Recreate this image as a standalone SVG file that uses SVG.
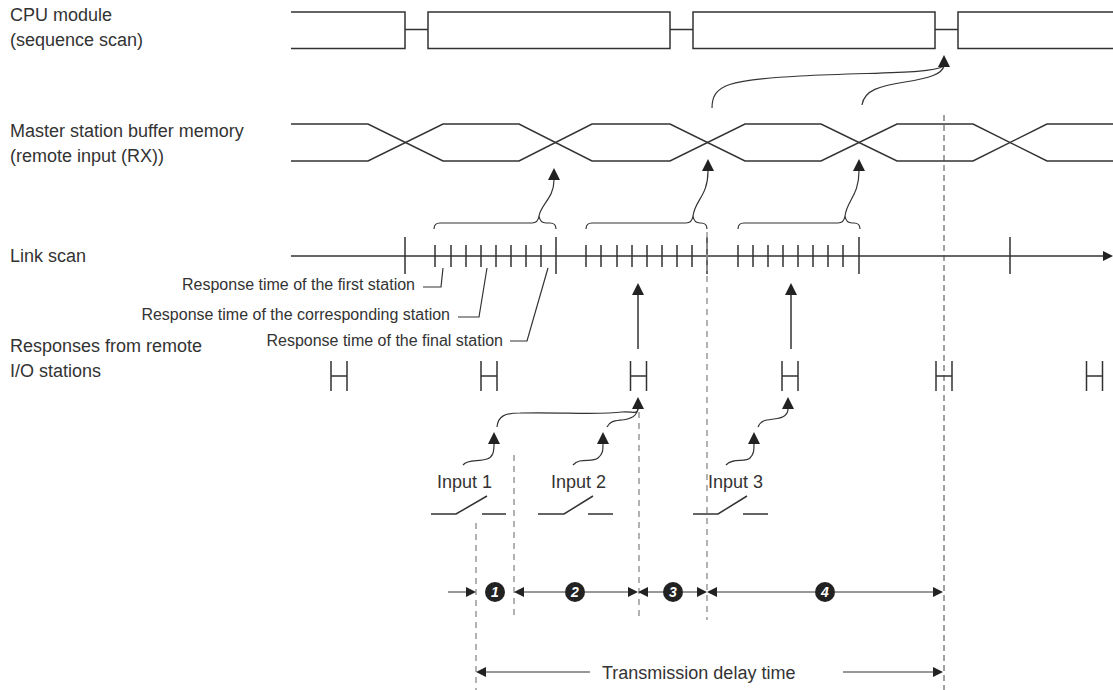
<svg xmlns="http://www.w3.org/2000/svg" xmlns:xlink="http://www.w3.org/1999/xlink" width="1113" height="690" viewBox="0 0 1113 690">
<style>
.ln{fill:none;stroke:#333;stroke-width:1.5}
.th{fill:none;stroke:#333;stroke-width:1.2}
.dg{fill:none;stroke:#999;stroke-width:1.5;stroke-dasharray:6 5}
.dk{fill:none;stroke:#444;stroke-width:1;stroke-dasharray:6 4}
.lbl{font-family:"Liberation Sans",Arial,sans-serif;font-size:18px;fill:#333}
.sm{font-family:"Liberation Sans",Arial,sans-serif;font-size:16px;fill:#333}
.num{font-family:"Liberation Sans",Arial,sans-serif;font-size:14px;font-weight:bold;font-style:italic;fill:#fff}
.ah{fill:#222}
</style>
<defs>
<path id="au" d="M0,0 L6,12 L-6,12 Z"/>
<path id="ar" d="M0,0 L-10,-5 L-10,5 Z"/>
<path id="al" d="M0,0 L10,-5 L10,5 Z"/>
<path id="H" d="M-8,361 V391 M8,361 V391 M-8,376 H8"/>
</defs>

<g id="labels">
<text class="lbl" x="10" y="21">CPU module</text>
<text class="lbl" x="10" y="46">(sequence scan)</text>
<text class="lbl" x="10" y="137">Master station buffer memory</text>
<text class="lbl" x="10" y="162">(remote input (RX))</text>
<text class="lbl" x="10" y="262">Link scan</text>
<text class="lbl" x="10" y="352">Responses from remote</text>
<text class="lbl" x="10" y="377">I/O stations</text>
</g>

<g id="cpu-scan">
<path class="ln" d="M291,12 H405 V48.5 H291 M405,29.5 H428 M670,29.5 H693 M935,29.5 H958 M1113,12 H958 V48.5 H1113"/>
<rect class="ln" x="428" y="12" width="242" height="36.5"/>
<rect class="ln" x="693" y="12" width="242" height="36.5"/>
</g>

<g id="buffer-memory">
<path class="ln" d="M291,124 L368,124 L443,161 L519,161 L592,124 L670,124 L745,161 L821,161 L897,124 L973,124 L1047,161 L1113,161"/>
<path class="ln" d="M291,161 L368,161 L443,124 L519,124 L592,161 L670,161 L745,124 L821,124 L897,161 L973,161 L1047,124 L1113,124"/>
</g>

<g id="link-scan">
<path class="ln" d="M291,256 H1104"/>
<use href="#ar" class="ah" x="1113" y="256"/>
<path class="ln" d="M405,237 V274 M556,237 V274 M707,237 V274 M859,237 V274 M1010,237 V274"/>
<path class="ln" d="M435,245 V267 M451,245 V267 M466,245 V267 M481,245 V267 M496,245 V267 M511,245 V267 M526,245 V267 M541,245 V267
M586,245 V267 M601,245 V267 M617,245 V267 M632,245 V267 M647,245 V267 M662,245 V267 M677,245 V267 M692,245 V267
M738,245 V267 M753,245 V267 M768,245 V267 M783,245 V267 M798,245 V267 M813,245 V267 M828,245 V267 M843,245 V267"/>
<path class="th" d="M434,229 Q434,223 440,223 H532 Q538,223 539,216 Q540,223 546,223 H550 Q556,223 556,229"/>
<path class="th" d="M586,229 Q586,223 592,223 H686 Q692,223 693,216 Q694,223 700,223 H701 Q707,223 707,229"/>
<path class="th" d="M738,229 Q738,223 744,223 H838 Q844,223 845,216 Q846,223 852,223 H854 Q860,223 860,229"/>
</g>

<g id="response-labels">
<text class="sm" x="415" y="290" text-anchor="end">Response time of the first station</text>
<text class="sm" x="450" y="320" text-anchor="end">Response time of the corresponding station</text>
<text class="sm" x="503" y="346" text-anchor="end">Response time of the final station</text>
<path class="th" d="M423,287 H441 L443,268 M458,317 H479 L487,268 M510,341 H527 L548,268"/>
</g>

<g id="responses">
<use href="#H" class="ln" x="339"/>
<use href="#H" class="ln" x="489"/>
<use href="#H" class="ln" x="638.5"/>
<use href="#H" class="ln" x="790"/>
<use href="#H" class="ln" x="944"/>
<use href="#H" class="ln" x="1094.5"/>
</g>

<g id="inputs">
<text class="lbl" x="437" y="488">Input 1</text>
<text class="lbl" x="551" y="488">Input 2</text>
<text class="lbl" x="708" y="488">Input 3</text>
<path class="ln" d="M431,514 H456 L487,496 M482,514 H506"/>
<path class="ln" d="M538,514 H564 L593,496 M588,514 H613"/>
<path class="ln" d="M693,514 H718 L747,496 M743,514 H768"/>
</g>

<g id="guides">
<path class="dk" d="M944,115 V690"/>
<path class="dg" d="M707,232 V620"/>
<path class="dg" d="M639,412 V620"/>
<path class="dg" d="M514,455 V620"/>
<path class="dg" d="M476,523 V690"/>
</g>

<g id="connectors">
<path class="th" d="M712,108 C712,84 730,80 800,76 C880,72 930,74 944,66"/>
<path class="th" d="M862,105 C864,90 880,86 905,82 C930,78 942,74 944,66"/>
<use href="#au" class="ah" x="944" y="55"/>
<path class="th" d="M539,216 C541,204 554,198 554,180"/>
<use href="#au" class="ah" x="554" y="168"/>
<path class="th" d="M693,216 C695,200 708,196 708,171"/>
<use href="#au" class="ah" x="708" y="159"/>
<path class="th" d="M845,216 C847,200 859,196 859,171"/>
<use href="#au" class="ah" x="859" y="159"/>
<path class="ln" d="M638,349 V294"/>
<use href="#au" class="ah" x="638" y="283"/>
<path class="ln" d="M791,349 V294"/>
<use href="#au" class="ah" x="791" y="283"/>
<path class="th" d="M463,465 C468,459 478,462 487,459 C493,457 494,452 494,444"/>
<use href="#au" class="ah" x="494" y="432"/>
<path class="th" d="M497,427 C498,416 505,413 520,413 C560,412 600,415 622,412 C632,411 637,415 638,409"/>
<path class="th" d="M573,465 C580,457 592,463 598,458 C603,454 603,450 603,444"/>
<use href="#au" class="ah" x="603" y="432"/>
<path class="th" d="M607,427 C610,421 614,421 622,420 C632,419 637,415 638,409"/>
<use href="#au" class="ah" x="638" y="397"/>
<path class="th" d="M726,465 C733,457 745,463 750,458 C754,454 754,450 754,444"/>
<use href="#au" class="ah" x="754" y="432"/>
<path class="th" d="M758,427 C761,420 766,420 774,419 C784,418 788,414 788,409"/>
<use href="#au" class="ah" x="788" y="397"/>
</g>

<g id="intervals">
<path class="th" d="M448,592 H467 M524,592 H565 M585,592 H628 M648,592 H663 M683,592 H697 M717,592 H815 M835,592 H934"/>
<use href="#ar" class="ah" x="476" y="592"/>
<use href="#al" class="ah" x="514" y="592"/>
<use href="#ar" class="ah" x="638" y="592"/>
<use href="#al" class="ah" x="638" y="592"/>
<use href="#ar" class="ah" x="707" y="592"/>
<use href="#al" class="ah" x="707" y="592"/>
<use href="#ar" class="ah" x="943" y="592"/>
<circle cx="495" cy="592" r="10" fill="#222"/>
<circle cx="575" cy="592" r="10" fill="#222"/>
<circle cx="673" cy="592" r="10" fill="#222"/>
<circle cx="825" cy="592" r="10" fill="#222"/>
<text class="num" x="495" y="597" text-anchor="middle">1</text>
<text class="num" x="575" y="597" text-anchor="middle">2</text>
<text class="num" x="673" y="597" text-anchor="middle">3</text>
<text class="num" x="825" y="597" text-anchor="middle">4</text>
</g>

<g id="delay">
<path class="th" d="M486,672 H590 M843,672 H933"/>
<use href="#al" class="ah" x="476" y="672"/>
<use href="#ar" class="ah" x="943" y="672"/>
<text class="lbl" x="602" y="679">Transmission delay time</text>
</g>
</svg>
